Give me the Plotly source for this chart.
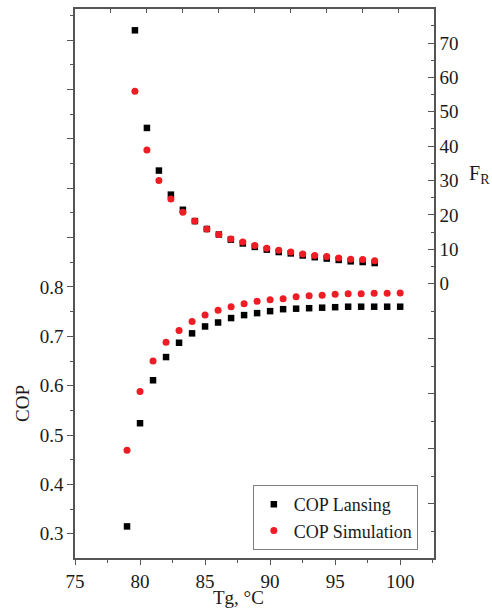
import plotly.graph_objects as go

# ---- data ----
x_cop = [79, 80, 81, 82, 83, 84, 85, 86, 87, 88, 89, 90, 91, 92, 93, 94, 95, 96, 97, 98, 99, 100]
cop_lansing = [0.315, 0.524, 0.611, 0.658, 0.687, 0.706, 0.720, 0.728, 0.737, 0.743, 0.747,
               0.751, 0.755, 0.756, 0.757, 0.758, 0.759, 0.760, 0.760, 0.760, 0.760, 0.760]
cop_simulation = [0.469, 0.588, 0.650, 0.688, 0.712, 0.730, 0.743, 0.753, 0.760, 0.766, 0.771,
                  0.774, 0.776, 0.780, 0.782, 0.783, 0.785, 0.786, 0.786, 0.787, 0.787, 0.788]

x_fr = [79, 80, 81, 82, 83, 84, 85, 86, 87, 88, 89, 90, 91, 92, 93, 94, 95, 96, 97, 98, 99]
fr_lansing = [73.7, 45.3, 32.9, 25.9, 21.5, 18.2, 15.9, 14.3, 12.8, 11.7, 10.7,
              9.9, 9.2, 8.8, 8.2, 7.7, 7.3, 6.9, 6.5, 6.3, 6.0]
fr_simulation = [56.0, 38.9, 30.0, 24.6, 20.8, 18.2, 15.9, 14.3, 13.0, 12.1, 11.1,
                 10.3, 9.7, 9.2, 8.6, 8.2, 7.9, 7.5, 7.1, 7.0, 6.7]

series_names = ["COP Lansing", "COP Simulation"]
x_ticks = [75, 80, 85, 90, 95, 100]
cop_ticks = [0.3, 0.4, 0.5, 0.6, 0.7, 0.8, 0.9, 1.0, 1.1, 1.2, 1.3]
fr_ticks = [0, 10, 20, 30, 40, 50, 60, 70]

FONT = "Liberation Serif, Times New Roman, serif"
BLACK = "#000000"
RED = "#ee1c24"
LINE = "#555555"
TXT = "#1a1a1a"

fig = go.Figure()

fig.add_trace(go.Scatter(x=x_cop, y=cop_lansing, mode="markers", name=series_names[0],
                         marker=dict(symbol="square", size=6.5, color=BLACK),
                         xaxis="x", yaxis="y"))
fig.add_trace(go.Scatter(x=x_fr, y=fr_lansing, mode="markers", name=series_names[0],
                         showlegend=False,
                         marker=dict(symbol="square", size=6.5, color=BLACK),
                         xaxis="x2", yaxis="y2"))
fig.add_trace(go.Scatter(x=x_cop, y=cop_simulation, mode="markers", name=series_names[1],
                         marker=dict(symbol="circle", size=7, color=RED),
                         xaxis="x", yaxis="y"))
fig.add_trace(go.Scatter(x=x_fr, y=fr_simulation, mode="markers", name=series_names[1],
                         showlegend=False,
                         marker=dict(symbol="circle", size=7, color=RED),
                         xaxis="x2", yaxis="y2"))

cop_text = [f"{v:.1f}" if v <= 0.8 + 1e-9 else "" for v in cop_ticks]
fr_major_neg = [-16, -32, -48, -64]
fr_minor = [5, 15, 25, 35, 45, 55, 65, 75, -8, -24, -40, -56, -72]

fig.update_layout(
    width=492, height=612,
    margin=dict(l=75, r=58, t=9, b=54),
    paper_bgcolor="white", plot_bgcolor="white",
    font=dict(family=FONT, size=19, color=TXT),
    showlegend=True,
    legend=dict(x=0.955, y=0.0146, xanchor="right", yanchor="bottom",
                bgcolor="white", bordercolor="#808080", borderwidth=1,
                font=dict(family=FONT, size=18, color=TXT),
                tracegroupgap=0, itemwidth=30),
    xaxis=dict(range=[75, 102.6], tickvals=x_ticks, ticks="outside", ticklen=5,
               tickwidth=1.2, tickcolor=LINE,
               showline=True, linecolor=LINE, linewidth=1.5,
               showgrid=False, zeroline=False,
               minor=dict(tickvals=[77.5, 82.5, 87.5, 92.5, 97.5, 102.5], ticks="outside",
                          ticklen=3, tickcolor=LINE)),
    xaxis2=dict(range=[74.0, 103.95], overlaying="x", side="top", anchor="y",
                tickvals=[77, 80, 83, 86, 89, 92, 95, 98, 101], ticks="inside", ticklen=4,
                tickwidth=1.2, tickcolor=LINE,
                showticklabels=False, showline=True, linecolor=LINE, linewidth=1.5,
                showgrid=False, zeroline=False),
    yaxis=dict(range=[0.251, 1.363], tickvals=cop_ticks, ticktext=cop_text,
               ticks="outside", ticklen=6, tickwidth=1.2, tickcolor=LINE,
               showline=True, linecolor=LINE, linewidth=1.5,
               showgrid=False, zeroline=False,
               minor=dict(tickvals=[0.25 + 0.1 * i for i in range(12)], ticks="outside",
                          ticklen=3, tickcolor=LINE)),
    yaxis2=dict(range=[-79.8, 79.9], overlaying="y", side="right", anchor="x",
                tickvals=fr_ticks + fr_major_neg,
                ticktext=[str(v) for v in fr_ticks] + [""] * len(fr_major_neg),
                ticks="inside", ticklen=6, tickwidth=1.2, tickcolor=LINE,
                showline=True, linecolor=LINE, linewidth=1.5,
                showgrid=False, zeroline=False,
                minor=dict(tickvals=fr_minor, ticks="inside", ticklen=3, tickcolor=LINE)),
    annotations=[
        dict(text="COP", xref="paper", yref="paper", x=(22 - 75) / 359, y=(558 - 404) / 549,
             textangle=-90, showarrow=False, xanchor="center", yanchor="middle",
             font=dict(family=FONT, size=19, color=TXT)),
        dict(text="Tg, °C", xref="paper", yref="paper", x=(238 - 75) / 359, y=(558 - 597) / 549,
             showarrow=False, xanchor="center", yanchor="middle",
             font=dict(family=FONT, size=19, color=TXT)),
        dict(text="F<sub>R</sub>", xref="paper", yref="paper", x=(479 - 75) / 359,
             y=(558 - 174) / 549, showarrow=False, xanchor="center", yanchor="middle",
             font=dict(family=FONT, size=20, color=TXT)),
    ],
)

fig.write_html("out.html")
